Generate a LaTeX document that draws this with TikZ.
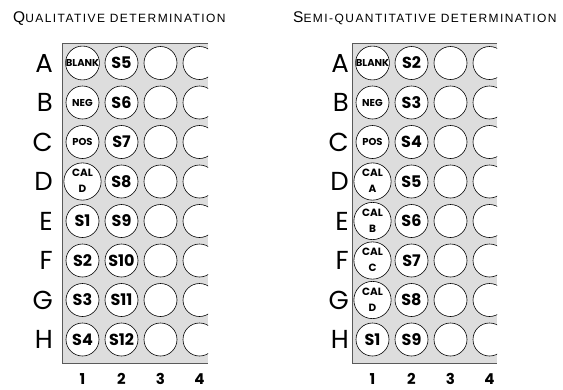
\documentclass[tikz,border=0pt]{standalone}
\usepackage{fontspec}
\setmainfont{Poppins}
\newfontfamily\titlefont[LetterSpace=12]{Liberation Sans}
\definecolor{plategray}{RGB}{221,221,221}
\definecolor{rimgray}{RGB}{90,90,90}
\newcommand{\calwell}[1]{{\fontsize{10.5}{15}\selectfont\begin{tabular}{@{}c@{}}CAL\\[1pt]#1\end{tabular}}}
\newcommand{\tinywell}[1]{{\fontsize{10}{10}\selectfont #1}}
\newcommand{\smallcapstitle}[2]{{\fontsize{15.5}{15}\selectfont #1}{\fontsize{12}{12}\selectfont #2}}

\begin{document}
\begin{tikzpicture}[x=1pt,y=-1pt,
    well/.style={circle, draw=black, line width=0.6pt, fill=white, minimum size=33pt,
                 inner sep=0pt, font=\bfseries\fontsize{16}{16}\selectfont},
    rowlbl/.style={anchor=base east, inner sep=0pt, font=\fontsize{26}{26}\selectfont},
    collbl/.style={anchor=base, inner sep=0pt, font=\bfseries\fontsize{15}{15}\selectfont},
    title/.style={anchor=base west, inner sep=0pt, font=\titlefont},
    plate/.style={fill=plategray},
    rim/.style={draw=rimgray, line width=1pt}]

  \useasboundingbox (0,0) rectangle (563,389);

  % titles
  \node[title] (qtitle) at (13,22) {\smallcapstitle{Q}{UALITATIVE DETERMINATION}};
  \node[title] (stitle) at (293,22) {\smallcapstitle{S}{EMI-QUANTITATIVE DETERMINATION}};

  % qualitative plate
  \fill[plate] (62,43) rectangle (208,363);
  \draw[rim] (208,43) -- (62,43) -- (62,363) -- (208,363);
  \begin{scope}
    \clip (62,43) rectangle (208,363);
    \foreach \r [count=\i from 0] in {A,B,C,D,E,F,G,H} {
      \node[well] (q\r3) at (160.5,{63+39.5*\i}) {};
      \node[well] (q\r4) at (199.5,{63+39.5*\i}) {};
    }
  \end{scope}
  \foreach \r/\a/\b [count=\i from 0] in {A/\tinywell{BLANK}/S5, B/\tinywell{NEG}/S6,
      C/\tinywell{POS}/S7, D/\calwell{D}/S8, E/S1/S9, F/S2/S10, G/S3/S11, H/S4/S12} {
    \node[rowlbl] (qr\r) at (53,{72+39.5*\i}) {\r};
    \node[well] (q\r1) at (82.5,{63+39.5*\i}) {\a};
    \node[well] (q\r2) at (121.5,{63+39.5*\i}) {\b};
  }
  \foreach \c/\x in {1/82.5, 2/121.5, 3/160.5, 4/199.5}
    \node[collbl] (qc\c) at (\x,384) {\c};

  % semi-quantitative plate
  \fill[plate] (352,43) rectangle (497,363);
  \draw[rim] (497,43) -- (352,43) -- (352,363) -- (497,363);
  \begin{scope}
    \clip (352,43) rectangle (497,363);
    \foreach \r [count=\i from 0] in {A,B,C,D,E,F,G,H} {
      \node[well] (s\r3) at (450.5,{63+39.5*\i}) {};
      \node[well] (s\r4) at (489.5,{63+39.5*\i}) {};
    }
  \end{scope}
  \foreach \r/\a/\b [count=\i from 0] in {A/\tinywell{BLANK}/S2, B/\tinywell{NEG}/S3,
      C/\tinywell{POS}/S4, D/\calwell{A}/S5, E/\calwell{B}/S6, F/\calwell{C}/S7,
      G/\calwell{D}/S8, H/S1/S9} {
    \node[rowlbl] (sr\r) at (349,{72+39.5*\i}) {\r};
    \node[well] (s\r1) at (372.5,{63+39.5*\i}) {\a};
    \node[well] (s\r2) at (411.5,{63+39.5*\i}) {\b};
  }
  \foreach \c/\x in {1/372.5, 2/411.5, 3/450.5, 4/489.5}
    \node[collbl] (sc\c) at (\x,384) {\c};
\end{tikzpicture}
\end{document}
